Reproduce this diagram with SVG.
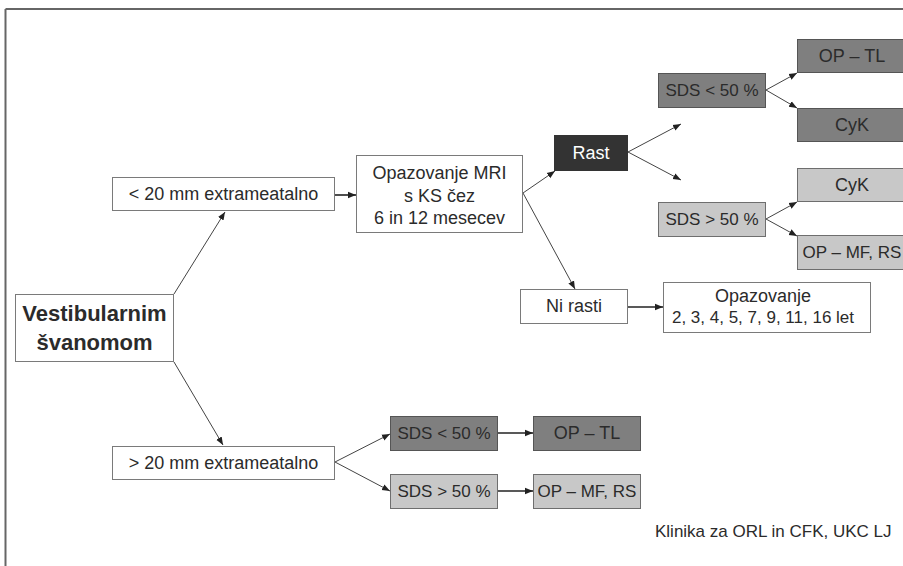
<svg xmlns="http://www.w3.org/2000/svg" width="903" height="566" viewBox="0 0 903 566">
<defs>
<style>
.t{font-family:"Liberation Sans",Arial,sans-serif;font-size:18px;fill:#2b2b2b;text-anchor:middle;dominant-baseline:central}
.s{font-size:17px}
.b{font-family:"Liberation Sans",Arial,sans-serif;font-size:22px;font-weight:bold;fill:#2b2b2b;text-anchor:middle;dominant-baseline:central}
.w{fill:#ffffff;stroke:#7a7a7a;stroke-width:1}
.d{fill:#7f7f7f;stroke:#555555;stroke-width:1}
.l{fill:#c8c8c8;stroke:#6e6e6e;stroke-width:1}
.k{fill:#333333;stroke:#333333;stroke-width:1}
.c line{stroke:#444444;stroke-width:1;marker-end:url(#ah)}
.c line.h{stroke:#222222;stroke-width:1.6}
</style>
<marker id="ah" viewBox="0 0 10 10" refX="10" refY="5" markerWidth="8" markerHeight="8" markerUnits="userSpaceOnUse" orient="auto">
<path d="M0,1 L10,5 L0,9 z" fill="#222222"/>
</marker>
</defs>
<rect x="0" y="0" width="903" height="566" fill="#ffffff"/>
<g id="frame" stroke="#666666" stroke-width="2" fill="none">
<line x1="5.5" y1="9" x2="903" y2="9"/>
<line x1="5.5" y1="9" x2="5.5" y2="566"/>
</g>
<g class="c" id="connectors">
<line x1="174" y1="294" x2="225" y2="212"/>
<line x1="174" y1="362" x2="223" y2="445"/>
<line class="h" x1="335" y1="195" x2="356" y2="195"/>
<line x1="523" y1="193" x2="555" y2="171"/>
<line x1="523" y1="193" x2="575" y2="289"/>
<line x1="628" y1="152" x2="681" y2="124"/>
<line x1="628" y1="152" x2="681" y2="180"/>
<line x1="766" y1="90" x2="797" y2="73"/>
<line x1="766" y1="90" x2="797" y2="108"/>
<line x1="766" y1="219" x2="797" y2="202"/>
<line x1="766" y1="219" x2="797" y2="236"/>
<line class="h" x1="628" y1="307" x2="663" y2="307"/>
<line x1="335" y1="462" x2="390" y2="434"/>
<line x1="335" y1="462" x2="390" y2="491"/>
<line class="h" x1="498" y1="433" x2="533" y2="433"/>
<line class="h" x1="498" y1="491" x2="533" y2="491"/>
</g>
<g id="vestibularnim">
<rect class="w" x="15.5" y="294.5" width="158" height="67"/>
<text class="b" x="94.5" y="313">Vestibularnim</text>
<text class="b" x="94.5" y="342">švanomom</text>
</g>
<g id="lt20">
<rect class="w" x="112.5" y="177.5" width="222" height="33"/>
<text class="t" x="223.5" y="194">&lt; 20 mm extrameatalno</text>
</g>
<g id="mri">
<rect class="w" x="356.5" y="155.5" width="166" height="77"/>
<text class="t" x="439.5" y="173">Opazovanje MRI</text>
<text class="t" x="439.5" y="196">s KS čez</text>
<text class="t" x="439.5" y="218">6 in 12 mesecev</text>
</g>
<g id="rast">
<rect class="k" x="554.5" y="135.5" width="73" height="35"/>
<text class="t" x="591" y="153" style="fill:#ffffff">Rast</text>
</g>
<g id="nirasti">
<rect class="w" x="520.5" y="289.5" width="107" height="34"/>
<text class="t" x="574" y="306">Ni rasti</text>
</g>
<g id="opazovanje">
<rect class="w" x="663.5" y="282.5" width="207" height="50"/>
<text class="t" x="763" y="296">Opazovanje</text>
<text class="t s" x="763" y="317">2, 3, 4, 5, 7, 9, 11, 16 let</text>
</g>
<g id="sds-lt-top">
<rect class="d" x="658.5" y="73.5" width="107" height="34"/>
<text class="t s" x="712" y="90">SDS &lt; 50 %</text>
</g>
<g id="optl-top">
<rect class="d" x="797.5" y="39.5" width="110" height="33"/>
<text class="t" x="852" y="56">OP – TL</text>
</g>
<g id="cyk-dark">
<rect class="d" x="797.5" y="108.5" width="110" height="33"/>
<text class="t" x="852" y="125">CyK</text>
</g>
<g id="cyk-light">
<rect class="l" x="797.5" y="168.5" width="110" height="33"/>
<text class="t" x="852" y="185">CyK</text>
</g>
<g id="sds-gt-top">
<rect class="l" x="658.5" y="202.5" width="107" height="34"/>
<text class="t s" x="712" y="219">SDS &gt; 50 %</text>
</g>
<g id="opmf-top">
<rect class="l" x="797.5" y="235.5" width="110" height="34"/>
<text class="t s" x="852" y="252">OP – MF, RS</text>
</g>
<g id="gt20">
<rect class="w" x="112.5" y="446.5" width="222" height="33"/>
<text class="t" x="223.5" y="463">&gt; 20 mm extrameatalno</text>
</g>
<g id="sds-lt-bot">
<rect class="d" x="390.5" y="416.5" width="107" height="34"/>
<text class="t s" x="444" y="433">SDS &lt; 50 %</text>
</g>
<g id="optl-bot">
<rect class="d" x="533.5" y="416.5" width="107" height="34"/>
<text class="t" x="587" y="433">OP – TL</text>
</g>
<g id="sds-gt-bot">
<rect class="l" x="390.5" y="474.5" width="107" height="34"/>
<text class="t s" x="444" y="491">SDS &gt; 50 %</text>
</g>
<g id="opmf-bot">
<rect class="l" x="533.5" y="474.5" width="107" height="34"/>
<text class="t s" x="587" y="491">OP – MF, RS</text>
</g>
<text x="655" y="531" style="font-family:'Liberation Sans',Arial,sans-serif;font-size:17px;fill:#2b2b2b;dominant-baseline:central">Klinika za ORL in CFK, UKC LJ</text>
</svg>
